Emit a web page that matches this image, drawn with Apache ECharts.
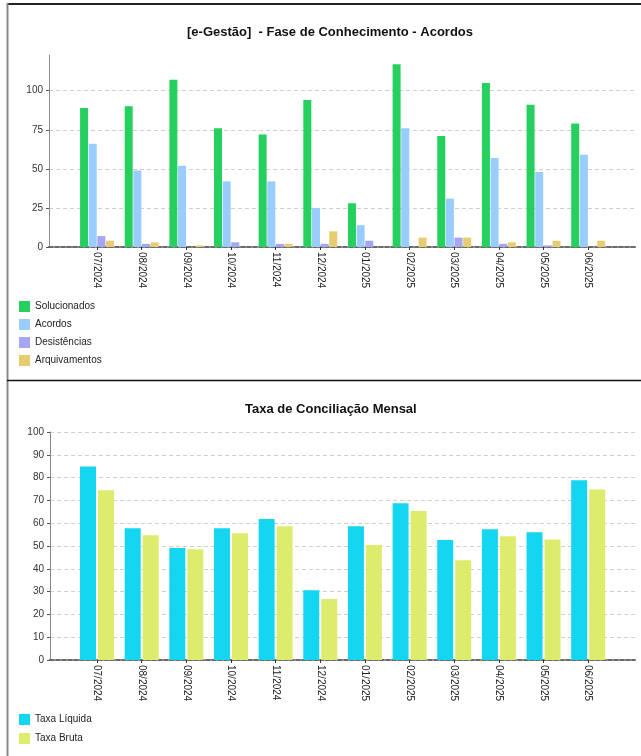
<!DOCTYPE html>
<html>
<head>
<meta charset="utf-8">
<script src="https://cdn.jsdelivr.net/npm/echarts@6/dist/echarts.min.js"></script>
<style>
  html, body { margin: 0; padding: 0; background: #fff; }
  #chart { width: 641px; height: 756px; }
</style>
</head>
<body>
<div id="chart"></div>
<script>
const months = ['07/2024', '08/2024', '09/2024', '10/2024', '11/2024', '12/2024',
  '01/2025', '02/2025', '03/2025', '04/2025', '05/2025', '06/2025']

// Fase de Conhecimento - Acordos
const solucionados = [89, 90, 107, 76, 72, 94, 28, 117, 71, 105, 91, 79]
const acordos = [66, 49, 52, 42, 42, 25, 14, 76, 31, 57, 48, 59]
const desistencias = [7, 2, 0, 3, 2, 2, 4, 0, 6, 2, 1, 0]
const arquivamentos = [4, 3, 1, 0, 2, 10, 0, 6, 6, 3, 4, 4]

// Taxa de Conciliação Mensal
const taxaLiquida = [84.9, 57.8, 49.1, 57.8, 61.8, 30.6, 58.7, 68.8, 52.6, 57.3, 56.0, 78.8]
const taxaBruta = [74.5, 54.7, 48.6, 55.6, 58.7, 26.7, 50.4, 65.3, 43.8, 54.3, 52.9, 74.8]

const topMax = 122.85
const font = "'Liberation Sans', Arial, sans-serif"

const chart = echarts.init(document.getElementById('chart'))

function frameX (grid) {
  return {
    gridIndex: grid,
    type: 'value',
    min: 0,
    max: 1,
    axisLine: { show: true, lineStyle: { color: '#6a6a6a', width: 2, type: [4, 2] } },
    axisTick: { show: false },
    axisLabel: { show: false },
    splitLine: { show: false }
  }
}

function frameY (grid, max, interval) {
  return {
    gridIndex: grid,
    type: 'value',
    min: 0,
    max: max,
    interval: interval,
    axisLine: { show: true, lineStyle: { color: '#8a8a8a' } },
    axisTick: { show: true, length: 3, lineStyle: { color: '#555' } },
    axisLabel: {
      color: '#333',
      fontSize: 10,
      fontFamily: font,
      margin: 6,
      showMaxLabel: max % interval === 0
    },
    splitLine: {
      show: true,
      showMaxLine: max % interval === 0,
      lineStyle: { color: '#cfcfcf', type: [4, 3] }
    }
  }
}

function monthX (grid) {
  return {
    gridIndex: grid,
    type: 'category',
    data: months,
    axisLine: { show: false },
    axisTick: { show: true, alignWithLabel: true, length: 3, lineStyle: { color: '#333' } },
    axisLabel: {
      rotate: -90,
      color: '#222',
      fontSize: 10,
      fontFamily: font,
      margin: 5
    }
  }
}

function hiddenY (grid, max) {
  return { gridIndex: grid, type: 'value', min: 0, max: max, show: false }
}

function bar (name, data, color, xi, width, gap) {
  return {
    name: name,
    type: 'bar',
    xAxisIndex: xi,
    yAxisIndex: xi,
    data: data,
    barWidth: width,
    barGap: gap,
    itemStyle: { color: color }
  }
}

const legendText = { color: '#222', fontSize: 10, fontFamily: font }
const titleText = { fontSize: 13, fontWeight: 'bold', color: '#111', fontFamily: font }

chart.setOption({
  animation: false,
  title: [
    { text: '[e-Gestão]  - Fase de Conhecimento - Acordos', left: 182, top: 21, textStyle: titleText },
    { text: 'Taxa de Conciliação Mensal', left: 240, top: 398, textStyle: titleText }
  ],
  legend: [
    {
      orient: 'vertical',
      left: 19,
      top: 301,
      padding: 0,
      itemWidth: 11,
      itemHeight: 11,
      itemGap: 7,
      icon: 'rect',
      textStyle: legendText,
      data: ['Solucionados', 'Acordos', 'Desistências', 'Arquivamentos']
    },
    {
      orient: 'vertical',
      left: 19,
      top: 714,
      padding: 0,
      itemWidth: 11,
      itemHeight: 11,
      itemGap: 8,
      icon: 'rect',
      textStyle: legendText,
      data: ['Taxa Líquida', 'Taxa Bruta']
    }
  ],
  grid: [
    { left: 49, top: 55, width: 586, height: 192 },
    { left: 74.7, top: 55, width: 535.8, height: 192 },
    { left: 50, top: 432, width: 585, height: 228 },
    { left: 74.7, top: 432, width: 535.8, height: 228 }
  ],
  xAxis: [frameX(0), monthX(1), frameX(2), monthX(3)],
  yAxis: [frameY(0, topMax, 25), hiddenY(1, topMax), frameY(2, 100, 10), hiddenY(3, 100)],
  series: [
    bar('Solucionados', solucionados, '#26d05e', 1, 8, '8%'),
    bar('Acordos', acordos, '#99ccff', 1, 8, '8%'),
    bar('Desistências', desistencias, '#a5a5f5', 1, 8, '8%'),
    bar('Arquivamentos', arquivamentos, '#e8cc72', 1, 8, '8%'),
    bar('Taxa Líquida', taxaLiquida, '#14d6f0', 3, 16, '12.5%'),
    bar('Taxa Bruta', taxaBruta, '#deec6e', 3, 16, '12.5%')
  ],
  graphic: [
    { type: 'line', shape: { x1: 7, y1: 4, x2: 641, y2: 4 }, style: { stroke: '#222', lineWidth: 2 } },
    { type: 'line', shape: { x1: 7.5, y1: 3, x2: 7.5, y2: 756 }, style: { stroke: '#888', lineWidth: 2 } },
    { type: 'line', shape: { x1: 7, y1: 380.5, x2: 641, y2: 380.5 }, style: { stroke: '#111', lineWidth: 1.5 } }
  ]
})

window.addEventListener('resize', () => chart.resize())
</script>
</body>
</html>
